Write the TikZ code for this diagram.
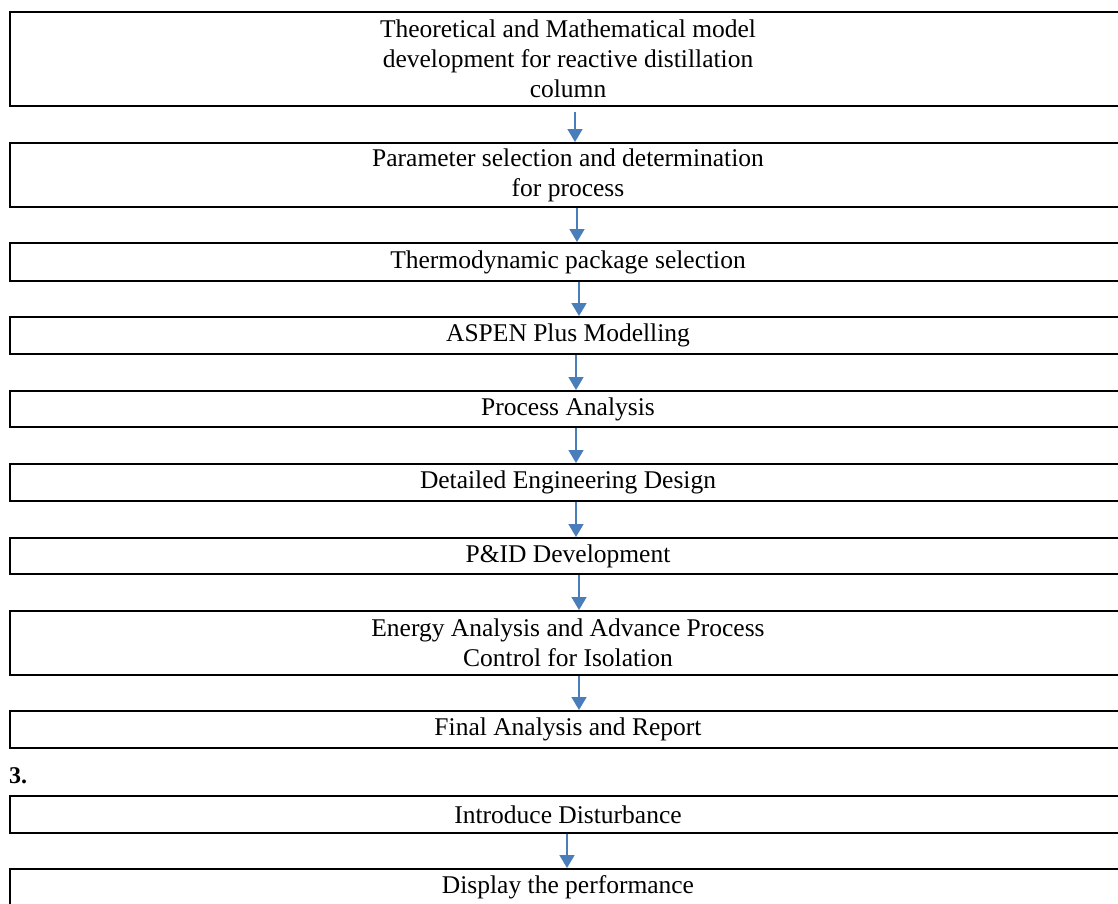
\documentclass[tikz,border=0pt]{standalone}
\usepackage{fontspec}
\setmainfont{Liberation Serif}
\usepackage{tikz}
\usetikzlibrary{arrows.meta}
\definecolor{flowblue}{RGB}{74,126,187}
\tikzset{>=latex}
\tikzset{
  stage/.style={draw=black, line width=2pt, minimum width=1116pt, inner sep=0pt,
    align=center, font=\fontsize{25.5}{30}\selectfont},
  flow/.style={draw=flowblue, line width=1.7pt, -{Triangle[width=15pt,length=13pt]}}
}

\begin{document}
\begin{tikzpicture}[x=1pt,y=-1pt]

  \useasboundingbox (0,0) rectangle (1118,903);
  \clip (0,0) rectangle (1118,903);

  % Nodes
  \node[stage, minimum height=94pt] (model)   at (568,59)    {Theoretical and Mathematical model\\development for reactive distillation\\column};
  \node[stage, minimum height=64pt] (param)   at (568,175)   {Parameter selection and determination\\for process};
  \node[stage, minimum height=38pt] (thermo)  at (568,262)   {Thermodynamic package selection};
  \node[stage, minimum height=37pt] (aspen)   at (568,335.5) {ASPEN Plus Modelling};
  \node[stage, minimum height=36pt] (proc)    at (568,409)   {Process Analysis};
  \node[stage, minimum height=37pt] (design)  at (568,482.5) {Detailed Engineering Design};
  \node[stage, minimum height=36pt] (pid)     at (568,556)   {P\&ID Development};
  \node[stage, minimum height=64pt] (energy)  at (568,643)   {Energy Analysis and Advance Process\\Control for Isolation};
  \node[stage, minimum height=37pt] (final)   at (568,729.5) {Final Analysis and Report};
  \node[anchor=west, inner sep=0pt, font=\bfseries\fontsize{24}{28}\selectfont] (num) at (9,776) {3.};
  \node[stage, minimum height=37pt] (dist)    at (568,814.5) {Introduce Disturbance};
  \node[stage, minimum height=37pt] (perf)    at (568,887.5) {Display the performance};

  % Edges
  \draw[flow] ([xshift=7pt,yshift=-5pt]model.south) -- ([xshift=7pt]param.north);
  \draw[flow] ([xshift=9pt]param.south) -- ([xshift=9pt]thermo.north);
  \draw[flow] ([xshift=11pt]thermo.south) -- ([xshift=11pt]aspen.north);
  \draw[flow] ([xshift=8pt]aspen.south) -- ([xshift=8pt]proc.north);
  \draw[flow] ([xshift=8pt]proc.south) -- ([xshift=8pt]design.north);
  \draw[flow] ([xshift=8pt]design.south) -- ([xshift=8pt]pid.north);
  \draw[flow] ([xshift=11pt]pid.south) -- ([xshift=11pt]energy.north);
  \draw[flow] ([xshift=11pt]energy.south) -- ([xshift=11pt]final.north);
  \draw[flow] ([xshift=-1pt]dist.south) -- ([xshift=-1pt]perf.north);

\end{tikzpicture}
\end{document}
